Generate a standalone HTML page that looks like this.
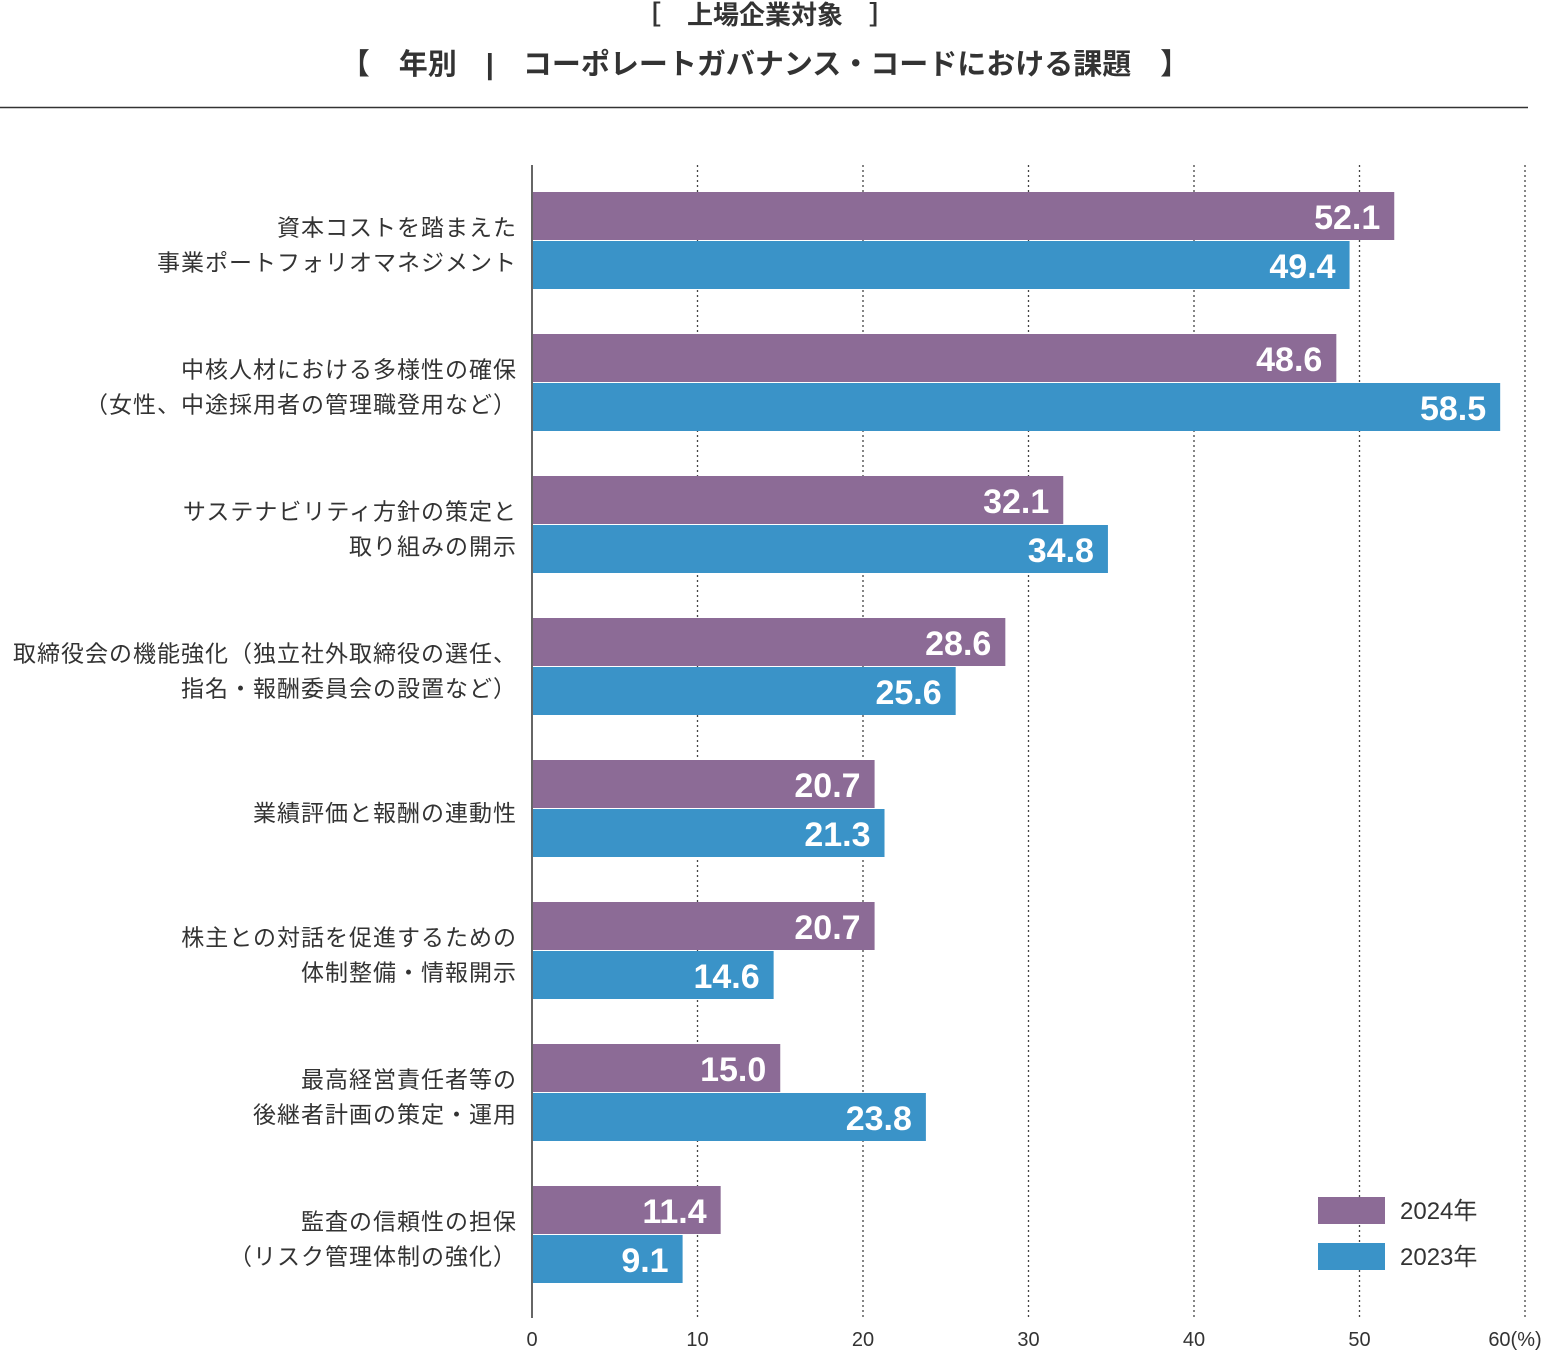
<!DOCTYPE html>
<html><head><meta charset="utf-8">
<style>
body{margin:0;background:#fff;width:1557px;height:1350px;overflow:hidden;font-family:"Liberation Sans","Noto Sans CJK JP",sans-serif;}
svg text{font-family:"Liberation Sans","Noto Sans CJK JP",sans-serif;}
</style></head><body>
<svg id="chart" width="1557" height="1350" xmlns="http://www.w3.org/2000/svg">
<text x="765" y="24" text-anchor="middle" font-size="26" font-weight="bold" fill="#333">［　上場企業対象　］</text>
<text x="765" y="74" text-anchor="middle" font-size="29" font-weight="bold" fill="#333">【　年別　|　コーポレートガバナンス・コードにおける課題　】</text>
<line x1="0" y1="107.5" x2="1528" y2="107.5" stroke="#333" stroke-width="1.5"/>
<g id="grid"></g><g id="bars"></g><g id="labels"></g>
<g>
<rect x="1318" y="1197" width="67" height="27" fill="#8c6b96"/>
<text x="1400" y="1219" font-size="24" fill="#333">2024年</text>
<rect x="1318" y="1243" width="67" height="27" fill="#3a93c8"/>
<text x="1400" y="1265" font-size="24" fill="#333">2023年</text>
</g>
</svg>
<script>
const categories=[["資本コストを踏まえた","事業ポートフォリオマネジメント"],["中核人材における多様性の確保","（女性、中途採用者の管理職登用など）"],["サステナビリティ方針の策定と","取り組みの開示"],["取締役会の機能強化（独立社外取締役の選任、","指名・報酬委員会の設置など）"],["業績評価と報酬の連動性"],["株主との対話を促進するための","体制整備・情報開示"],["最高経営責任者等の","後継者計画の策定・運用"],["監査の信頼性の担保","（リスク管理体制の強化）"]];
const values2024=[52.1,48.6,32.1,28.6,20.7,20.7,15.0,11.4];
const values2023=[49.4,58.5,34.8,25.6,21.3,14.6,23.8,9.1];
const ticks=[0,10,20,30,40,50,60];
const NS="http://www.w3.org/2000/svg";
const x0=532,x1=1525,xmax=60;
const xs=v=>x0+(x1-x0)*v/xmax;
const top0=192,step=142,bh=48;
const grid=document.getElementById('grid'),bars=document.getElementById('bars'),labs=document.getElementById('labels');
function mk(tag,attrs,parent,txt){const e=document.createElementNS(NS,tag);for(const k in attrs)e.setAttribute(k,attrs[k]);if(txt!==undefined)e.textContent=txt;parent.appendChild(e);return e;}
ticks.forEach(t=>{
 if(t>0){const l=mk('line',{x1:xs(t),x2:xs(t),y1:165,y2:1318,stroke:'#444','stroke-width':1.3,'stroke-dasharray':'2,3'},grid);
 
 }
 const tx=mk('text',{x:xs(t),y:1346,'text-anchor':'middle','font-size':20,fill:'#333'},grid,t===60?'60(%)':String(t));
 if(t===60){tx.setAttribute('x',xs(t)-10);}
 
 
});
const ax=mk('line',{x1:x0,x2:x0,y1:165,y2:1318,stroke:'#333','stroke-width':1.5},grid);


categories.forEach((c,i)=>{
 const y=top0+i*step;
 [[values2024[i],'#8c6b96',y,'2024'],[values2023[i],'#3a93c8',y+bh+1,'2023']].forEach(([v,col,yy,yr])=>{
  const r=mk('rect',{x:x0+1,y:yy,width:xs(v)-x0-1,height:bh,fill:col},bars);
  
  
  const t=mk('text',{x:xs(v)-14,y:yy+37,'text-anchor':'end','font-size':34,'font-weight':'bold',fill:'#fff'},bars,v.toFixed(1));
  
  
 });
 const cy=y+bh+1;
 const n=c.length;
 c.forEach((line,j)=>{
  const ly=cy+12+(j-(n-1)/2)*35;
  const t=mk('text',{x:517,y:ly,'text-anchor':'end','font-size':23,'letter-spacing':1,fill:'#333'},labs,line);
  
  
 });
});
</script>
</body></html>
